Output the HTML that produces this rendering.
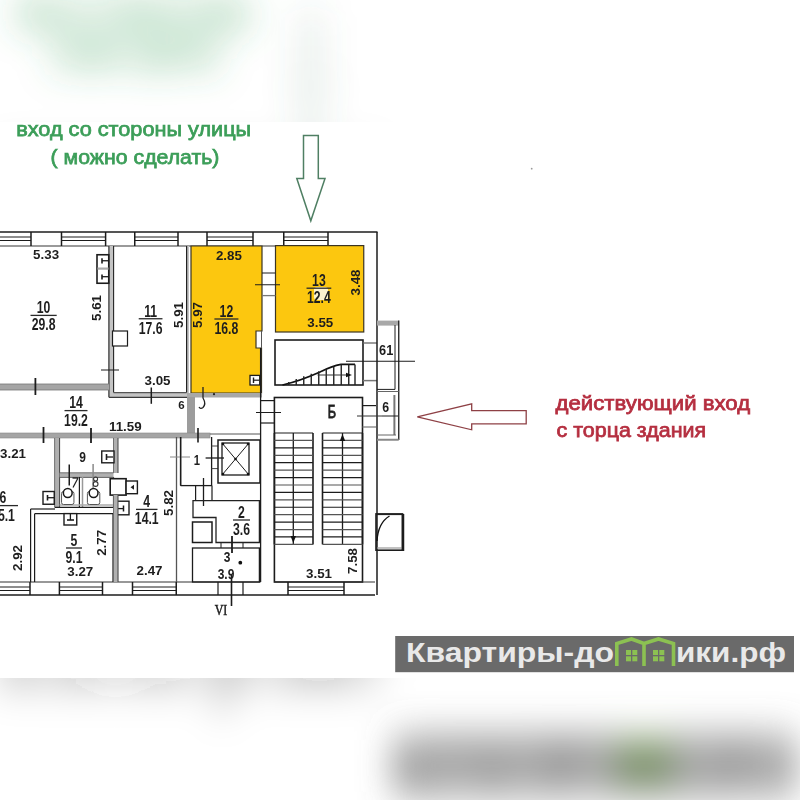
<!DOCTYPE html>
<html><head><meta charset="utf-8"><style>
html,body{margin:0;padding:0;background:#fff;}
body{width:800px;height:800px;overflow:hidden;position:relative;}
svg{position:absolute;left:0;top:0;display:block;}
text{font-family:"Liberation Sans",sans-serif;}
</style></head><body>
<svg width="800" height="800" viewBox="0 0 800 800">
<defs>
<filter id="bg" x="-10%" y="-10%" width="120%" height="120%"><feGaussianBlur stdDeviation="17 20"/></filter>
<g id="main">
<text x="16.2" y="136.4" font-size="20" fill="#3c9e59" stroke="#3c9e59" stroke-width="0.75" textLength="235" lengthAdjust="spacingAndGlyphs">вход со стороны улицы</text>
<text x="50.6" y="164.2" font-size="20" fill="#3c9e59" stroke="#3c9e59" stroke-width="0.75" textLength="168.8" lengthAdjust="spacingAndGlyphs">( можно сделать)</text>
<polygon points="303.5,135.5 318.3,135.5 318.3,178.6 325,178.6 310.8,220.8 296.8,178.6 303.5,178.6" fill="none" stroke="#4f7f63" stroke-width="1.5"/>
<polygon points="417.3,416.8 471.7,403.8 471.7,410.6 526.2,410.6 526.2,423.8 471.7,423.8 471.7,429.8" fill="none" stroke="#8e4045" stroke-width="1.3"/>
<text x="555.6" y="409.6" font-size="20" fill="#b52f40" stroke="#b52f40" stroke-width="0.75" textLength="194.5" lengthAdjust="spacingAndGlyphs">действующий вход</text>
<text x="556.6" y="437.1" font-size="20" fill="#b52f40" stroke="#b52f40" stroke-width="0.75" textLength="149.5" lengthAdjust="spacingAndGlyphs">с торца здания</text>
<line x1="0" y1="232" x2="377.5" y2="232" stroke="#1c1c1c" stroke-width="1.3" />
<line x1="0" y1="246" x2="364" y2="246" stroke="#9a9a9a" stroke-width="2" />
<line x1="31" y1="232" x2="31" y2="246" stroke="#1c1c1c" stroke-width="1.5" />
<line x1="-5" y1="237" x2="31" y2="237" stroke="#1c1c1c" stroke-width="1" />
<line x1="-5" y1="240.5" x2="31" y2="240.5" stroke="#1c1c1c" stroke-width="1" />
<line x1="61.5" y1="232" x2="61.5" y2="246" stroke="#1c1c1c" stroke-width="1.5" />
<line x1="105.6" y1="232" x2="105.6" y2="246" stroke="#1c1c1c" stroke-width="1.5" />
<line x1="61.5" y1="237" x2="105.6" y2="237" stroke="#1c1c1c" stroke-width="1" />
<line x1="61.5" y1="240.5" x2="105.6" y2="240.5" stroke="#1c1c1c" stroke-width="1" />
<line x1="134.75" y1="232" x2="134.75" y2="246" stroke="#1c1c1c" stroke-width="1.5" />
<line x1="178" y1="232" x2="178" y2="246" stroke="#1c1c1c" stroke-width="1.5" />
<line x1="134.75" y1="237" x2="178" y2="237" stroke="#1c1c1c" stroke-width="1" />
<line x1="134.75" y1="240.5" x2="178" y2="240.5" stroke="#1c1c1c" stroke-width="1" />
<line x1="207" y1="232" x2="207" y2="246" stroke="#1c1c1c" stroke-width="1.5" />
<line x1="253" y1="232" x2="253" y2="246" stroke="#1c1c1c" stroke-width="1.5" />
<line x1="207" y1="237" x2="253" y2="237" stroke="#1c1c1c" stroke-width="1" />
<line x1="207" y1="240.5" x2="253" y2="240.5" stroke="#1c1c1c" stroke-width="1" />
<line x1="283.75" y1="232" x2="283.75" y2="246" stroke="#1c1c1c" stroke-width="1.5" />
<line x1="328" y1="232" x2="328" y2="246" stroke="#1c1c1c" stroke-width="1.5" />
<line x1="283.75" y1="237" x2="328" y2="237" stroke="#1c1c1c" stroke-width="1" />
<line x1="283.75" y1="240.5" x2="328" y2="240.5" stroke="#1c1c1c" stroke-width="1" />
<path d="M108.9,246 L108.9,397.3 L189,397.3 L189,246 L186.6,246 L186.6,392.6 L113.6,392.6 L113.6,246 Z" fill="#c4c4c4" stroke="none"/>
<line x1="108.9" y1="246" x2="108.9" y2="397.3" stroke="#3a3a3a" stroke-width="1.3" />
<line x1="108.9" y1="397.3" x2="189" y2="397.3" stroke="#3a3a3a" stroke-width="1.3" />
<line x1="113.6" y1="246" x2="113.6" y2="392.6" stroke="#222" stroke-width="1.1" />
<line x1="113.6" y1="392.6" x2="186.6" y2="392.6" stroke="#555" stroke-width="1.1" />
<line x1="186.6" y1="246" x2="186.6" y2="392.6" stroke="#222" stroke-width="1.2" />
<rect x="112.5" y="331" width="15" height="15" fill="#fff" stroke="#1c1c1c" stroke-width="1.2" />
<line x1="101" y1="370" x2="119" y2="370" stroke="#1c1c1c" stroke-width="1" />
<line x1="151.3" y1="387.5" x2="151.3" y2="403.8" stroke="#1c1c1c" stroke-width="1.5" />
<rect x="97" y="254.75" width="11.75" height="28.5" fill="#fff" stroke="#1c1c1c" stroke-width="1.6" />
<rect x="97.5" y="267.5" width="11" height="2.2" fill="#aaa"/>
<line x1="102" y1="258.25" x2="102" y2="263.5" stroke="#1c1c1c" stroke-width="1.6" />
<line x1="102" y1="260.75" x2="108.75" y2="260.75" stroke="#1c1c1c" stroke-width="1.3" />
<line x1="102" y1="274.5" x2="102" y2="279.5" stroke="#1c1c1c" stroke-width="1.6" />
<line x1="102" y1="276.7" x2="108.75" y2="276.7" stroke="#1c1c1c" stroke-width="1.3" />
<rect x="-2" y="384" width="111.5" height="6" fill="#a5a5a5" stroke="#777" stroke-width="0.8"/>
<line x1="35.4" y1="378" x2="35.4" y2="395" stroke="#1c1c1c" stroke-width="1.8" />
<path d="M191,246 L262,246 L262,331 L256,331 L256,348 L261.5,348 L261.5,393 L191,393 Z" fill="#fcc70f" stroke="#3b3422" stroke-width="1.2"/>
<rect x="187" y="393" width="75" height="4.5" fill="#a8a8a8"/>
<rect x="250" y="375.4" width="9.75" height="9.6" fill="#fff" stroke="#1c1c1c" stroke-width="1.3" />
<line x1="253.5" y1="377.5" x2="253.5" y2="383" stroke="#1c1c1c" stroke-width="1.4" />
<line x1="253.5" y1="380.2" x2="259.5" y2="380.2" stroke="#1c1c1c" stroke-width="1.2" />
<rect x="275.5" y="245.6" width="88.25" height="86.4" fill="#fcc70f" stroke="#3b3422" stroke-width="1.2"/>
<line x1="262" y1="273" x2="275.5" y2="273" stroke="#1c1c1c" stroke-width="1" />
<line x1="262" y1="295.6" x2="275.5" y2="295.6" stroke="#777" stroke-width="1.3" />
<line x1="255" y1="284.75" x2="280" y2="284.75" stroke="#1c1c1c" stroke-width="1" />
<rect x="187" y="397" width="8" height="40" fill="#9c9c9c"/>
<rect x="-2" y="433" width="212" height="5" fill="#a5a5a5" stroke="#888" stroke-width="0.6"/>
<line x1="210" y1="434" x2="260.6" y2="434" stroke="#555" stroke-width="1" />
<line x1="43.5" y1="427" x2="43.5" y2="443" stroke="#1c1c1c" stroke-width="1.8" />
<line x1="91" y1="428" x2="91" y2="443" stroke="#1c1c1c" stroke-width="1.8" />
<rect x="275" y="340" width="88" height="45" fill="none" stroke="#1c1c1c" stroke-width="1.6" />
<line x1="363" y1="343" x2="377" y2="343" stroke="#666" stroke-width="1.3" />
<line x1="363" y1="380.6" x2="377" y2="380.6" stroke="#777" stroke-width="1.5" />
<path d="M282.5,385 Q300,381 320,372 Q332,366 341,364.4 L355,364.4" fill="none" stroke="#111" stroke-width="1.7"/>
<line x1="288.75" y1="381.92189982959167" x2="288.75" y2="385" stroke="#222" stroke-width="1.4" />
<line x1="296.25" y1="378.98352623011994" x2="296.25" y2="385" stroke="#222" stroke-width="1.4" />
<line x1="303.75" y1="376.2895653175283" x2="303.75" y2="385" stroke="#222" stroke-width="1.4" />
<line x1="311.25" y1="373.7377048189109" x2="311.25" y2="385" stroke="#222" stroke-width="1.4" />
<line x1="318.75" y1="371.28497689830544" x2="318.75" y2="385" stroke="#222" stroke-width="1.4" />
<line x1="326.25" y1="368.90777549107395" x2="326.25" y2="385" stroke="#222" stroke-width="1.4" />
<line x1="333.75" y1="366.59124052039516" x2="333.75" y2="385" stroke="#222" stroke-width="1.4" />
<line x1="341.25" y1="364.4" x2="341.25" y2="385" stroke="#222" stroke-width="1.4" />
<line x1="348.75" y1="364.4" x2="348.75" y2="385" stroke="#222" stroke-width="1.4" />
<line x1="355" y1="364.4" x2="355" y2="385" stroke="#222" stroke-width="1.4" />
<line x1="317.5" y1="375" x2="350" y2="375" stroke="#333" stroke-width="1.1" />
<polygon points="346,372.8 352,375 346,377.2" fill="#111"/>
<line x1="377" y1="232" x2="377" y2="595" stroke="#1c1c1c" stroke-width="1.5" />
<rect x="377" y="320.6" width="21.75" height="5" fill="#a8a8a8"/>
<line x1="398.75" y1="320.6" x2="398.75" y2="440" stroke="#1c1c1c" stroke-width="1.3" />
<line x1="395" y1="325" x2="395" y2="389.4" stroke="#1c1c1c" stroke-width="1" />
<line x1="377" y1="389.4" x2="395" y2="389.4" stroke="#1c1c1c" stroke-width="1" />
<line x1="377" y1="391.5" x2="398.75" y2="391.5" stroke="#666" stroke-width="1" />
<line x1="394.4" y1="395" x2="394.4" y2="435" stroke="#777" stroke-width="2" />
<line x1="377" y1="435" x2="396" y2="435" stroke="#666" stroke-width="1" />
<line x1="377" y1="439.75" x2="398.75" y2="439.75" stroke="#888" stroke-width="2" />
<text x="0" y="0" transform="translate(386.2,354.75) scale(0.85,1)" font-size="15" fill="#1e1e1e"  text-anchor="middle" font-weight="bold" >61</text>
<text x="0" y="0" transform="translate(385.6,412.3) scale(0.85,1)" font-size="14.5" fill="#1e1e1e"  text-anchor="middle" font-weight="bold" >6</text>
<line x1="346" y1="361.25" x2="415" y2="361.25" stroke="#1c1c1c" stroke-width="1" />
<line x1="382" y1="416" x2="398" y2="416" stroke="#1c1c1c" stroke-width="1" />
<rect x="274.4" y="397.5" width="88.1" height="184.5" fill="none" stroke="#1c1c1c" stroke-width="1.6" />
<line x1="274.4" y1="433" x2="274.4" y2="544.4" stroke="#1c1c1c" stroke-width="1.6" />
<line x1="313" y1="433" x2="313" y2="544.4" stroke="#1c1c1c" stroke-width="1.6" />
<line x1="293.3" y1="433" x2="293.3" y2="544.4" stroke="#1c1c1c" stroke-width="1.3" />
<line x1="274.4" y1="433.0" x2="313" y2="433.0" stroke="#1c1c1c" stroke-width="1.2" />
<line x1="274.4" y1="440.4266666666667" x2="313" y2="440.4266666666667" stroke="#555" stroke-width="1.2" />
<line x1="274.4" y1="447.85333333333335" x2="313" y2="447.85333333333335" stroke="#1c1c1c" stroke-width="1.2" />
<line x1="274.4" y1="455.28" x2="313" y2="455.28" stroke="#555" stroke-width="1.2" />
<line x1="274.4" y1="462.70666666666665" x2="313" y2="462.70666666666665" stroke="#1c1c1c" stroke-width="1.2" />
<line x1="274.4" y1="470.1333333333333" x2="313" y2="470.1333333333333" stroke="#555" stroke-width="1.2" />
<line x1="274.4" y1="477.56" x2="313" y2="477.56" stroke="#1c1c1c" stroke-width="1.2" />
<line x1="274.4" y1="484.9866666666667" x2="313" y2="484.9866666666667" stroke="#555" stroke-width="1.2" />
<line x1="274.4" y1="492.4133333333333" x2="313" y2="492.4133333333333" stroke="#1c1c1c" stroke-width="1.2" />
<line x1="274.4" y1="499.84" x2="313" y2="499.84" stroke="#555" stroke-width="1.2" />
<line x1="274.4" y1="507.26666666666665" x2="313" y2="507.26666666666665" stroke="#1c1c1c" stroke-width="1.2" />
<line x1="274.4" y1="514.6933333333333" x2="313" y2="514.6933333333333" stroke="#555" stroke-width="1.2" />
<line x1="274.4" y1="522.12" x2="313" y2="522.12" stroke="#1c1c1c" stroke-width="1.2" />
<line x1="274.4" y1="529.5466666666666" x2="313" y2="529.5466666666666" stroke="#555" stroke-width="1.2" />
<line x1="274.4" y1="536.9733333333334" x2="313" y2="536.9733333333334" stroke="#1c1c1c" stroke-width="1.2" />
<line x1="274.4" y1="544.4" x2="313" y2="544.4" stroke="#555" stroke-width="1.2" />
<line x1="322.5" y1="433" x2="322.5" y2="544.4" stroke="#1c1c1c" stroke-width="1.6" />
<line x1="362.5" y1="433" x2="362.5" y2="544.4" stroke="#1c1c1c" stroke-width="1.6" />
<line x1="342.5" y1="433" x2="342.5" y2="544.4" stroke="#1c1c1c" stroke-width="1.3" />
<line x1="322.5" y1="433.0" x2="362.5" y2="433.0" stroke="#1c1c1c" stroke-width="1.2" />
<line x1="322.5" y1="440.4266666666667" x2="362.5" y2="440.4266666666667" stroke="#555" stroke-width="1.2" />
<line x1="322.5" y1="447.85333333333335" x2="362.5" y2="447.85333333333335" stroke="#1c1c1c" stroke-width="1.2" />
<line x1="322.5" y1="455.28" x2="362.5" y2="455.28" stroke="#555" stroke-width="1.2" />
<line x1="322.5" y1="462.70666666666665" x2="362.5" y2="462.70666666666665" stroke="#1c1c1c" stroke-width="1.2" />
<line x1="322.5" y1="470.1333333333333" x2="362.5" y2="470.1333333333333" stroke="#555" stroke-width="1.2" />
<line x1="322.5" y1="477.56" x2="362.5" y2="477.56" stroke="#1c1c1c" stroke-width="1.2" />
<line x1="322.5" y1="484.9866666666667" x2="362.5" y2="484.9866666666667" stroke="#555" stroke-width="1.2" />
<line x1="322.5" y1="492.4133333333333" x2="362.5" y2="492.4133333333333" stroke="#1c1c1c" stroke-width="1.2" />
<line x1="322.5" y1="499.84" x2="362.5" y2="499.84" stroke="#555" stroke-width="1.2" />
<line x1="322.5" y1="507.26666666666665" x2="362.5" y2="507.26666666666665" stroke="#1c1c1c" stroke-width="1.2" />
<line x1="322.5" y1="514.6933333333333" x2="362.5" y2="514.6933333333333" stroke="#555" stroke-width="1.2" />
<line x1="322.5" y1="522.12" x2="362.5" y2="522.12" stroke="#1c1c1c" stroke-width="1.2" />
<line x1="322.5" y1="529.5466666666666" x2="362.5" y2="529.5466666666666" stroke="#555" stroke-width="1.2" />
<line x1="322.5" y1="536.9733333333334" x2="362.5" y2="536.9733333333334" stroke="#1c1c1c" stroke-width="1.2" />
<line x1="322.5" y1="544.4" x2="362.5" y2="544.4" stroke="#555" stroke-width="1.2" />
<polygon points="290.5,536 296,536 293.3,543" fill="#111"/>
<polygon points="339.8,441 345.2,441 342.5,434" fill="#111"/>
<text x="0" y="0" transform="translate(332,417.7) scale(0.72,1)" font-size="17.5" fill="#1e1e1e" stroke="#1e1e1e" stroke-width="0.9" text-anchor="middle" font-weight="normal" >Б</text>
<line x1="261" y1="400.6" x2="274.4" y2="400.6" stroke="#1c1c1c" stroke-width="1.2" />
<line x1="261" y1="423" x2="274.4" y2="423" stroke="#1c1c1c" stroke-width="1.2" />
<line x1="256" y1="412.5" x2="281" y2="412.5" stroke="#1c1c1c" stroke-width="1" />
<line x1="362.5" y1="405.6" x2="376" y2="405.6" stroke="#1c1c1c" stroke-width="1.2" />
<line x1="362.5" y1="427" x2="376" y2="427" stroke="#777" stroke-width="1.2" />
<line x1="357" y1="416" x2="382" y2="416" stroke="#333" stroke-width="1" />
<line x1="260.6" y1="348" x2="260.6" y2="582" stroke="#1c1c1c" stroke-width="1.3" />
<line x1="261.5" y1="331" x2="261.5" y2="348" stroke="#555" stroke-width="1" />
<rect x="376" y="513.9" width="26.5" height="36.3" fill="none" stroke="#1c1c1c" stroke-width="1.6" />
<line x1="377" y1="548" x2="402" y2="548" stroke="#999" stroke-width="1.2" />
<line x1="377" y1="514.6" x2="402" y2="514.6" stroke="#1c1c1c" stroke-width="1" />
<line x1="403" y1="514" x2="403" y2="551" stroke="#1c1c1c" stroke-width="2.5" />
<path d="M377,541 Q378,523 389.5,516" fill="none" stroke="#111" stroke-width="1.4"/>
<line x1="0" y1="595" x2="375" y2="595" stroke="#1c1c1c" stroke-width="1.3" />
<line x1="0" y1="582" x2="260.6" y2="582" stroke="#333" stroke-width="1.2" />
<line x1="274.4" y1="582" x2="375" y2="582" stroke="#333" stroke-width="1.2" />
<line x1="30" y1="582" x2="30" y2="595" stroke="#1c1c1c" stroke-width="1.5" />
<line x1="-5" y1="587" x2="30" y2="587" stroke="#1c1c1c" stroke-width="1" />
<line x1="-5" y1="590.5" x2="30" y2="590.5" stroke="#1c1c1c" stroke-width="1" />
<line x1="59.4" y1="582" x2="59.4" y2="595" stroke="#1c1c1c" stroke-width="1.5" />
<line x1="102.5" y1="582" x2="102.5" y2="595" stroke="#1c1c1c" stroke-width="1.5" />
<line x1="59.4" y1="587" x2="102.5" y2="587" stroke="#1c1c1c" stroke-width="1" />
<line x1="59.4" y1="590.5" x2="102.5" y2="590.5" stroke="#1c1c1c" stroke-width="1" />
<line x1="132.5" y1="582" x2="132.5" y2="595" stroke="#1c1c1c" stroke-width="1.5" />
<line x1="176.25" y1="582" x2="176.25" y2="595" stroke="#1c1c1c" stroke-width="1.5" />
<line x1="132.5" y1="587" x2="176.25" y2="587" stroke="#1c1c1c" stroke-width="1" />
<line x1="132.5" y1="590.5" x2="176.25" y2="590.5" stroke="#1c1c1c" stroke-width="1" />
<line x1="288" y1="582" x2="288" y2="595" stroke="#1c1c1c" stroke-width="1.5" />
<line x1="344" y1="582" x2="344" y2="595" stroke="#1c1c1c" stroke-width="1.5" />
<line x1="288" y1="587" x2="344" y2="587" stroke="#1c1c1c" stroke-width="1" />
<line x1="288" y1="590.5" x2="344" y2="590.5" stroke="#1c1c1c" stroke-width="1" />
<line x1="218" y1="582" x2="218" y2="595" stroke="#1c1c1c" stroke-width="1.2" />
<line x1="243" y1="582" x2="243" y2="595" stroke="#1c1c1c" stroke-width="1.2" />
<rect x="54.6" y="438" width="5.0" height="69" fill="#b0b0b0"/>
<line x1="54.6" y1="438" x2="54.6" y2="507" stroke="#666" stroke-width="0.9" />
<line x1="59.6" y1="438" x2="59.6" y2="507" stroke="#444" stroke-width="1" />
<rect x="113.5" y="438" width="4.5" height="35" fill="#b0b0b0"/>
<line x1="113.5" y1="438" x2="113.5" y2="473" stroke="#666" stroke-width="0.9" />
<line x1="118" y1="438" x2="118" y2="473" stroke="#444" stroke-width="1" />
<rect x="59.6" y="472.8" width="53.9" height="4.599999999999966" fill="#b0b0b0"/>
<line x1="59.6" y1="472.8" x2="113.5" y2="472.8" stroke="#666" stroke-width="0.9" />
<line x1="59.6" y1="477.4" x2="113.5" y2="477.4" stroke="#555" stroke-width="0.9" />
<line x1="113.5" y1="477" x2="113.5" y2="507" stroke="#555" stroke-width="1.2" />
<line x1="79.4" y1="477" x2="79.4" y2="507" stroke="#1c1c1c" stroke-width="1.2" />
<line x1="82.5" y1="477" x2="82.5" y2="507" stroke="#999" stroke-width="1.5" />
<line x1="59.6" y1="505" x2="113.5" y2="505" stroke="#aaa" stroke-width="1.5" />
<line x1="54.6" y1="507.3" x2="113.5" y2="507.3" stroke="#1c1c1c" stroke-width="1.3" />
<rect x="61.55" y="491.5" width="12.4" height="13" rx="2" fill="#fff" stroke="#555" stroke-width="1"/>
<circle cx="67.75" cy="493" r="4.4" fill="#fff" stroke="#1a1a1a" stroke-width="1.5"/>
<rect x="87.39999999999999" y="491.5" width="12.4" height="13" rx="2" fill="#fff" stroke="#555" stroke-width="1"/>
<circle cx="93.6" cy="493" r="4.4" fill="#fff" stroke="#1a1a1a" stroke-width="1.5"/>
<line x1="69.25" y1="464.5" x2="69.25" y2="485.5" stroke="#1c1c1c" stroke-width="1.5" />
<line x1="93.1" y1="464" x2="93.1" y2="488" stroke="#8a8a8a" stroke-width="1.5" />
<line x1="72.5" y1="478" x2="78" y2="478" stroke="#1c1c1c" stroke-width="1.3" />
<line x1="78" y1="478" x2="73" y2="487.5" stroke="#1c1c1c" stroke-width="1.2" />
<circle cx="95.6" cy="479" r="2" fill="none" stroke="#333" stroke-width="1.1"/><circle cx="95.6" cy="484" r="2.4" fill="none" stroke="#333" stroke-width="1.1"/>
<text x="0" y="0" transform="translate(82.5,462) scale(0.8,1)" font-size="15" fill="#1e1e1e"  text-anchor="middle" font-weight="bold" >9</text>
<rect x="101.75" y="451" width="12.25" height="11.8" fill="#fff" stroke="#1c1c1c" stroke-width="1.4" />
<line x1="106.5" y1="454" x2="106.5" y2="460" stroke="#1c1c1c" stroke-width="1.6" />
<line x1="106.5" y1="457" x2="113" y2="457" stroke="#1c1c1c" stroke-width="1.3" />
<rect x="110.2" y="478.7" width="15.9" height="16.4" fill="#fff" stroke="#1c1c1c" stroke-width="1.6" />
<rect x="126.1" y="481" width="11.3" height="12.7" fill="#fff" stroke="#1c1c1c" stroke-width="1.4" />
<polygon points="130.5,487.3 134,484.8 134,489.8" fill="#222"/>
<rect x="43" y="491.5" width="11.25" height="12.75" fill="#fff" stroke="#1c1c1c" stroke-width="1.4" />
<line x1="47.5" y1="495" x2="47.5" y2="500.5" stroke="#1c1c1c" stroke-width="1.6" />
<line x1="47.5" y1="497.7" x2="54" y2="497.7" stroke="#1c1c1c" stroke-width="1.3" />
<rect x="117.2" y="501.2" width="11.8" height="13.6" fill="#fff" stroke="#1c1c1c" stroke-width="1.4" />
<line x1="117.2" y1="508.6" x2="123.5" y2="508.6" stroke="#1c1c1c" stroke-width="1.3" />
<line x1="123.5" y1="505.5" x2="123.5" y2="511.5" stroke="#1c1c1c" stroke-width="1.5" />
<line x1="30.6" y1="509" x2="30.6" y2="582" stroke="#1c1c1c" stroke-width="1.2" />
<line x1="34.6" y1="513.7" x2="34.6" y2="582" stroke="#1c1c1c" stroke-width="1.2" />
<line x1="30.6" y1="509" x2="55" y2="509" stroke="#1c1c1c" stroke-width="1.2" />
<line x1="34.6" y1="513.7" x2="113" y2="513.7" stroke="#1c1c1c" stroke-width="1.2" />
<line x1="113" y1="513.7" x2="113" y2="582" stroke="#1c1c1c" stroke-width="1.2" />
<line x1="117.5" y1="513.7" x2="117.5" y2="582" stroke="#1c1c1c" stroke-width="1.2" />
<rect x="64" y="513.6" width="12.75" height="11.4" fill="#fff" stroke="#1c1c1c" stroke-width="1.4" />
<line x1="70.4" y1="513.6" x2="70.4" y2="520" stroke="#1c1c1c" stroke-width="1.3" />
<line x1="67" y1="520" x2="74" y2="520" stroke="#1c1c1c" stroke-width="1.6" />
<rect x="113.5" y="495" width="4.5" height="87" fill="#b0b0b0"/>
<line x1="113.5" y1="495" x2="113.5" y2="582" stroke="#666" stroke-width="0.9" />
<line x1="118" y1="495" x2="118" y2="582" stroke="#444" stroke-width="1" />
<line x1="176.5" y1="437" x2="176.5" y2="582" stroke="#555" stroke-width="1.3" />
<line x1="180.6" y1="437" x2="180.6" y2="485.6" stroke="#1c1c1c" stroke-width="1.4" />
<line x1="170" y1="457" x2="190" y2="457" stroke="#888" stroke-width="1" />
<line x1="180.6" y1="437" x2="180.6" y2="485.6" stroke="#1c1c1c" stroke-width="1.3" />
<line x1="180.6" y1="485.6" x2="212" y2="485.6" stroke="#1c1c1c" stroke-width="1.3" />
<line x1="195.6" y1="485.6" x2="195.6" y2="500.6" stroke="#1c1c1c" stroke-width="1.2" />
<line x1="212" y1="485.6" x2="212" y2="500.6" stroke="#1c1c1c" stroke-width="1.2" />
<line x1="203.5" y1="478" x2="203.5" y2="506" stroke="#1c1c1c" stroke-width="1.3" />
<line x1="205.6" y1="458" x2="224" y2="458" stroke="#1c1c1c" stroke-width="1.3" />
<line x1="211.6" y1="437" x2="211.6" y2="485.6" stroke="#1c1c1c" stroke-width="1.3" />
<line x1="211.6" y1="446" x2="218" y2="446" stroke="#444" stroke-width="1" />
<line x1="211.6" y1="468.6" x2="218" y2="468.6" stroke="#444" stroke-width="1" />
<line x1="198" y1="428" x2="198" y2="442.5" stroke="#1c1c1c" stroke-width="1.6" />
<path d="M203,387 L203,398 Q206.5,404 203,407.5 Q200.5,409.5 199,407" fill="none" stroke="#222" stroke-width="1.3"/>
<circle cx="214" cy="394.2" r="1.1" fill="#222"/>
<rect x="218" y="440" width="42" height="43" fill="none" stroke="#1c1c1c" stroke-width="1.5" />
<rect x="222" y="443" width="27" height="32" fill="none" stroke="#1c1c1c" stroke-width="1.3" />
<line x1="222" y1="443" x2="249" y2="475" stroke="#1c1c1c" stroke-width="1" />
<line x1="249" y1="443" x2="222" y2="475" stroke="#1c1c1c" stroke-width="1" />
<circle cx="223" cy="444" r="1.3" fill="#111"/>
<circle cx="248" cy="444" r="1.3" fill="#111"/>
<circle cx="223" cy="474" r="1.3" fill="#111"/>
<circle cx="248" cy="474" r="1.3" fill="#111"/>
<circle cx="235.5" cy="459" r="1.3" fill="#111"/>
<text x="0" y="0" transform="translate(196.8,465) scale(0.75,1)" font-size="15" fill="#1e1e1e"  text-anchor="middle" font-weight="bold" >1</text>
<path d="M193,517.5 L193,500.6 L259.4,500.6 L259.4,542.5 L216,542.5 L216,517.5 Z" fill="none" stroke="#222" stroke-width="1.3"/>
<rect x="192.5" y="522" width="19.5" height="20.5" fill="none" stroke="#1c1c1c" stroke-width="1.5" />
<text x="0" y="0" transform="translate(241.5,517.8) scale(0.72,1)" font-size="17" fill="#1e1e1e"  text-anchor="middle" font-weight="bold" >2</text>
<line x1="233.0" y1="520" x2="250.0" y2="520" stroke="#2a2a2a" stroke-width="1.3" />
<text x="0" y="0" transform="translate(241.5,535) scale(0.72,1)" font-size="17" fill="#1e1e1e"  text-anchor="middle" font-weight="bold" >3.6</text>
<rect x="192.5" y="548" width="66.9" height="34" fill="none" stroke="#1c1c1c" stroke-width="1.3" />
<line x1="221" y1="543" x2="221" y2="548" stroke="#1c1c1c" stroke-width="1" />
<line x1="243" y1="543" x2="243" y2="548" stroke="#1c1c1c" stroke-width="1" />
<line x1="232" y1="536" x2="232" y2="553" stroke="#1c1c1c" stroke-width="1.8" />
<line x1="231.5" y1="575" x2="231.5" y2="606" stroke="#1c1c1c" stroke-width="1.6" />
<circle cx="240.3" cy="562.7" r="1.9" fill="#111"/>
<text x="0" y="0" transform="translate(227,562) scale(0.8,1)" font-size="15" fill="#1e1e1e"  text-anchor="middle" font-weight="bold" >3</text>
<text x="0" y="0" transform="translate(226,578.8) scale(0.8,1)" font-size="15" fill="#1e1e1e"  text-anchor="middle" font-weight="bold" >3.9</text>
<text x="0" y="0" transform="translate(221,615) scale(0.8,1)" font-size="15" fill="#1e1e1e" stroke="#1e1e1e" stroke-width="0.5" text-anchor="middle" font-weight="normal" style="font-family:'Liberation Serif',serif">VI</text>
<text x="0" y="0" transform="translate(46.1,258.7) scale(1.07,1)" font-size="12.5" fill="#1e1e1e"  text-anchor="middle" font-weight="bold" >5.33</text>
<text x="0" y="0" transform="translate(43.6,313.2) scale(0.72,1)" font-size="17" fill="#1e1e1e"  text-anchor="middle" font-weight="bold" >10</text>
<line x1="30.5" y1="315.4" x2="56.7" y2="315.4" stroke="#2a2a2a" stroke-width="1.3" />
<text x="0" y="0" transform="translate(43.6,330.4) scale(0.72,1)" font-size="17" fill="#1e1e1e"  text-anchor="middle" font-weight="bold" >29.8</text>
<text x="0" y="0" font-size="12.5" fill="#1e1e1e" font-weight="bold" text-anchor="middle" transform="translate(101.27499999999999,308) rotate(-90) scale(1.07,1)" >5.61</text>
<text x="0" y="0" transform="translate(150.6,316.55) scale(0.72,1)" font-size="17" fill="#1e1e1e"  text-anchor="middle" font-weight="bold" >11</text>
<line x1="138.725" y1="318.75" x2="162.475" y2="318.75" stroke="#2a2a2a" stroke-width="1.3" />
<text x="0" y="0" transform="translate(150.6,333.75) scale(0.72,1)" font-size="17" fill="#1e1e1e"  text-anchor="middle" font-weight="bold" >17.6</text>
<text x="0" y="0" font-size="12.5" fill="#1e1e1e" font-weight="bold" text-anchor="middle" transform="translate(183.17499999999998,315) rotate(-90) scale(1.07,1)" >5.91</text>
<text x="0" y="0" transform="translate(157.5,385) scale(1.07,1)" font-size="12.5" fill="#1e1e1e"  text-anchor="middle" font-weight="bold" >3.05</text>
<text x="0" y="0" transform="translate(228.9,259.9) scale(1.07,1)" font-size="12.5" fill="#1e1e1e"  text-anchor="middle" font-weight="bold" >2.85</text>
<text x="0" y="0" font-size="12.5" fill="#1e1e1e" font-weight="bold" text-anchor="middle" transform="translate(201.67499999999998,315) rotate(-90) scale(1.07,1)" >5.97</text>
<text x="0" y="0" transform="translate(226.4,316.8) scale(0.72,1)" font-size="17" fill="#1e1e1e"  text-anchor="middle" font-weight="bold" >12</text>
<line x1="214.4" y1="319" x2="238.4" y2="319" stroke="#2a2a2a" stroke-width="1.3" />
<text x="0" y="0" transform="translate(226.4,334) scale(0.72,1)" font-size="17" fill="#1e1e1e"  text-anchor="middle" font-weight="bold" >16.8</text>
<rect x="314" y="287" width="14" height="13" rx="3" fill="#fdf3cf"/>
<text x="0" y="0" transform="translate(318.9,286.0) scale(0.72,1)" font-size="17" fill="#1e1e1e"  text-anchor="middle" font-weight="bold" >13</text>
<line x1="306.525" y1="288.2" x2="331.275" y2="288.2" stroke="#2a2a2a" stroke-width="1.3" />
<text x="0" y="0" transform="translate(318.9,303.2) scale(0.72,1)" font-size="17" fill="#1e1e1e"  text-anchor="middle" font-weight="bold" >12.4</text>
<text x="0" y="0" font-size="12.5" fill="#1e1e1e" font-weight="bold" text-anchor="middle" transform="translate(360.475,282.5) rotate(-90) scale(1.07,1)" >3.48</text>
<text x="0" y="0" transform="translate(320.3,327.2) scale(1.07,1)" font-size="12.5" fill="#1e1e1e"  text-anchor="middle" font-weight="bold" >3.55</text>
<text x="0" y="0" transform="translate(76,408.40000000000003) scale(0.72,1)" font-size="17" fill="#1e1e1e"  text-anchor="middle" font-weight="bold" >14</text>
<line x1="64.5" y1="410.6" x2="87.5" y2="410.6" stroke="#2a2a2a" stroke-width="1.3" />
<text x="0" y="0" transform="translate(76,425.6) scale(0.72,1)" font-size="17" fill="#1e1e1e"  text-anchor="middle" font-weight="bold" >19.2</text>
<text x="0" y="0" transform="translate(125.3,430.6) scale(1.07,1)" font-size="12.5" fill="#1e1e1e"  text-anchor="middle" font-weight="bold" >11.59</text>
<text x="0" y="0" transform="translate(181.5,408.7) scale(1,1)" font-size="11.5" fill="#1e1e1e"  text-anchor="middle" font-weight="bold" >6</text>
<text x="0" y="0" transform="translate(13,458) scale(1.07,1)" font-size="12.5" fill="#1e1e1e"  text-anchor="middle" font-weight="bold" >3.21</text>
<text x="0" y="0" transform="translate(3,503.40000000000003) scale(0.72,1)" font-size="17" fill="#1e1e1e"  text-anchor="middle" font-weight="bold" >6</text>
<line x1="-12.0" y1="505.6" x2="18.0" y2="505.6" stroke="#2a2a2a" stroke-width="1.3" />
<text x="0" y="0" transform="translate(3,520.6) scale(0.72,1)" font-size="17" fill="#1e1e1e"  text-anchor="middle" font-weight="bold" >15.1</text>
<text x="0" y="0" font-size="12.5" fill="#1e1e1e" font-weight="bold" text-anchor="middle" transform="translate(22.275,558) rotate(-90) scale(1.07,1)" >2.92</text>
<text x="0" y="0" transform="translate(74,545.8) scale(0.72,1)" font-size="17" fill="#1e1e1e"  text-anchor="middle" font-weight="bold" >5</text>
<line x1="66.0" y1="548" x2="82.0" y2="548" stroke="#2a2a2a" stroke-width="1.3" />
<text x="0" y="0" transform="translate(74,563) scale(0.72,1)" font-size="17" fill="#1e1e1e"  text-anchor="middle" font-weight="bold" >9.1</text>
<text x="0" y="0" font-size="12.5" fill="#1e1e1e" font-weight="bold" text-anchor="middle" transform="translate(106.475,542.8) rotate(-90) scale(1.07,1)" >2.77</text>
<text x="0" y="0" transform="translate(80.3,575.6) scale(1.07,1)" font-size="12.5" fill="#1e1e1e"  text-anchor="middle" font-weight="bold" >3.27</text>
<text x="0" y="0" transform="translate(146.75,507.2) scale(0.72,1)" font-size="17" fill="#1e1e1e"  text-anchor="middle" font-weight="bold" >4</text>
<line x1="136.0" y1="509.4" x2="157.5" y2="509.4" stroke="#2a2a2a" stroke-width="1.3" />
<text x="0" y="0" transform="translate(146.75,524.4) scale(0.72,1)" font-size="17" fill="#1e1e1e"  text-anchor="middle" font-weight="bold" >14.1</text>
<text x="0" y="0" font-size="12.5" fill="#1e1e1e" font-weight="bold" text-anchor="middle" transform="translate(173.17499999999998,503) rotate(-90) scale(1.07,1)" >5.82</text>
<text x="0" y="0" transform="translate(149.5,575) scale(1.07,1)" font-size="12.5" fill="#1e1e1e"  text-anchor="middle" font-weight="bold" >2.47</text>
<text x="0" y="0" transform="translate(319,578) scale(1.07,1)" font-size="12.5" fill="#1e1e1e"  text-anchor="middle" font-weight="bold" >3.51</text>
<text x="0" y="0" font-size="12.5" fill="#1e1e1e" font-weight="bold" text-anchor="middle" transform="translate(357.475,561) rotate(-90) scale(1.07,1)" >7.58</text>
<circle cx="531.7" cy="168.7" r="0.9" fill="#9a9a9a"/>
<rect x="395.2" y="636" width="398.8" height="36.2" fill="#6a6a6a"/>
<text x="406" y="661.7" font-size="28" font-weight="bold" fill="#e9e9e9" textLength="208" lengthAdjust="spacingAndGlyphs">Квартиры-до</text>
<text x="676" y="661.7" font-size="28" font-weight="bold" fill="#e9e9e9" textLength="110" lengthAdjust="spacingAndGlyphs">ики.рф</text>
<path d="M616.8,666 L616.8,643.5 L631.5,639 L644,643.5 L644,666 M644,643.5 L658.5,639 L673.5,643.5 L673.5,666" fill="none" stroke="#8cc152" stroke-width="3.6" stroke-linejoin="miter"/>
<rect x="626" y="650" width="5" height="5" fill="#8cc152"/>
<rect x="626" y="656.3" width="5" height="5" fill="#8cc152"/>
<rect x="632.3" y="650" width="5" height="5" fill="#8cc152"/>
<rect x="632.3" y="656.3" width="5" height="5" fill="#8cc152"/>
<rect x="653" y="650" width="5" height="5" fill="#8cc152"/>
<rect x="653" y="656.3" width="5" height="5" fill="#8cc152"/>
<rect x="659.3" y="650" width="5" height="5" fill="#8cc152"/>
<rect x="659.3" y="656.3" width="5" height="5" fill="#8cc152"/>
</g>
</defs>
<g filter="url(#bg)"><use href="#main" transform="matrix(1,0,0,1.4388,0,-175.5)"/></g>
<rect x="0" y="122" width="800" height="556" fill="#fff"/>
<use href="#main"/>
</svg>
</body></html>
